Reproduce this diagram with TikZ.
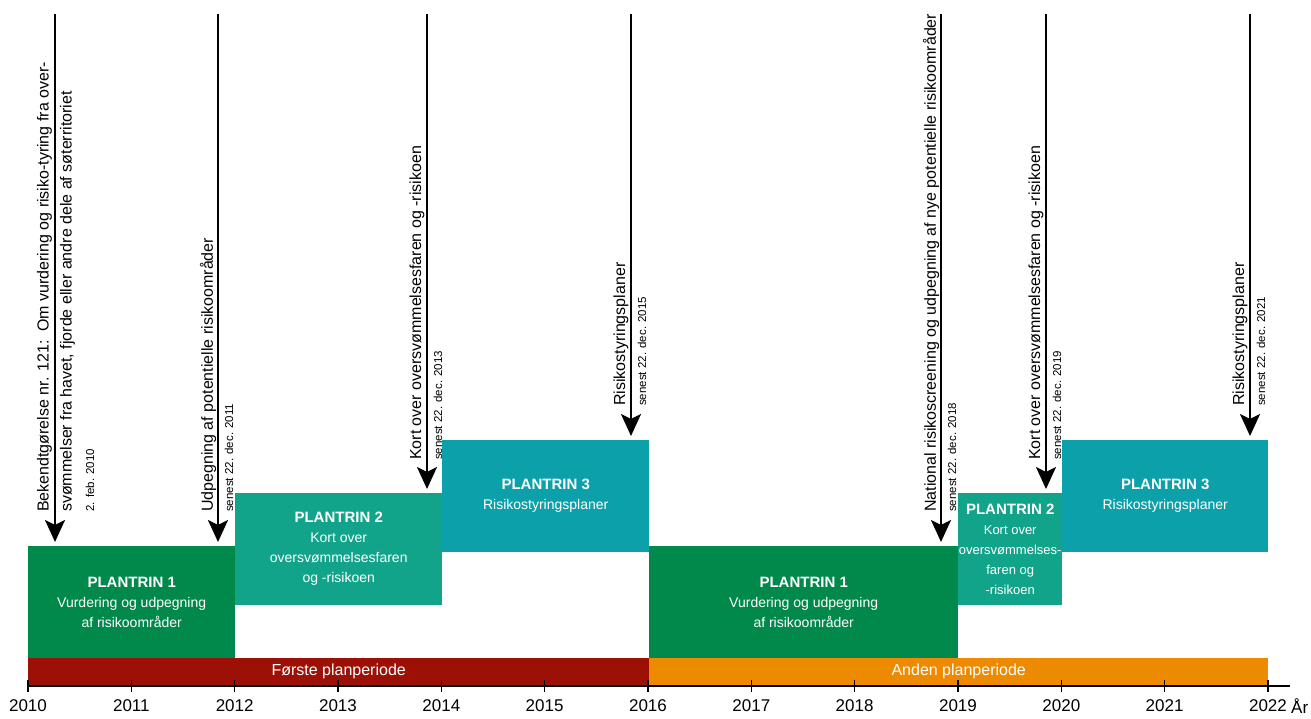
\documentclass[tikz,border=0pt]{standalone}
\usepackage{fontspec}
\setmainfont{Liberation Sans}
\usepackage{xcolor}
\usetikzlibrary{arrows.meta, positioning}

\definecolor{trinA}{HTML}{00894A}
\definecolor{trinB}{HTML}{12A48B}
\definecolor{trinC}{HTML}{0CA0AA}
\definecolor{periodA}{HTML}{9C1006}
\definecolor{periodB}{HTML}{EE8A00}

\begin{document}
\begin{tikzpicture}[
x=1pt, y=-1pt,
trin/.style={fill=#1, text=white, minimum height=112pt, inner sep=0pt, anchor=north west, align=center, font=\fontsize{14}{20}\selectfont},
period/.style={fill=#1, text=white, minimum height=27pt, inner sep=0pt, anchor=north west, font=\fontsize{16}{18}\selectfont},
arr/.style={-{Stealth[length=22pt, width=20pt, inset=5pt]}, line width=2.5pt, shorten >=4pt},
lbl/.style={rotate=90, anchor=west, inner sep=0pt, align=left, font=\fontsize{16}{23}\selectfont},
date/.style={rotate=90, anchor=west, inner sep=0pt, font=\fontsize{11.5}{14}\selectfont},
axis/.style={line width=2pt},
year/.style={font=\fontsize{17}{20}\selectfont, inner sep=0pt}
]
\useasboundingbox (0,0) rectangle (1311,718);

% plantrin boxes, first period
\node[trin=trinA, minimum width=207pt] (p11) at (28,546) {{\bfseries\fontsize{15}{20}\selectfont PLANTRIN 1}\\Vurdering og udpegning\\af risikoområder};
\node[trin=trinB, minimum width=207pt] (p12) at (235,493) {{\bfseries\fontsize{15}{20}\selectfont PLANTRIN 2}\\Kort over\\oversvømmelsesfaren\\og -risikoen};
\node[trin=trinC, minimum width=207pt] (p13) at (442,440) {{\bfseries\fontsize{15}{20}\selectfont PLANTRIN 3}\\Risikostyringsplaner};

% plantrin boxes, second period
\node[trin=trinA, minimum width=309pt] (p21) at (649,546) {{\bfseries\fontsize{15}{20}\selectfont PLANTRIN 1}\\Vurdering og udpegning\\af risikoområder};
\node[trin=trinB, minimum width=104pt, font=\fontsize{13}{20}\selectfont] (p22) at (958,493) {{\bfseries\fontsize{15}{20}\selectfont PLANTRIN 2}\\Kort over\\oversvømmelses-\\faren og\\-risikoen};
\node[trin=trinC, minimum width=206pt] (p23) at (1062,440) {{\bfseries\fontsize{15}{20}\selectfont PLANTRIN 3}\\Risikostyringsplaner};

% periods
\node[period=periodA, minimum width=621pt] (per1) at (28,658) {Første planperiode};
\node[period=periodB, minimum width=619pt] (per2) at (649,658) {Anden planperiode};

% time axis
\draw[axis] (28,686) -- (1290,686);
\foreach \i in {0,...,12} {
  \pgfmathtruncatemacro{\yr}{2010+\i}
  \draw[line width=1.6pt] (28+\i*103.33,680) -- (28+\i*103.33,692);
  \node[year] (y\yr) at (28+\i*103.33,706) {\yr};
}
\node[year, anchor=west] (aar) at (1291,706) {År};

% deadlines
\coordinate (a1) at (55,14);
\coordinate (a2) at (218,14);
\coordinate (a3) at (427,14);
\coordinate (a4) at (631,14);
\coordinate (a5) at (941,14);
\coordinate (a6) at (1046,14);
\coordinate (a7) at (1250,14);

\draw[arr] (a1) -- (a1 |- p11.north);
\draw[arr] (a2) -- (a2 |- p11.north);
\draw[arr] (a3) -- (a3 |- p12.north);
\draw[arr] (a4) -- (a4 |- p13.north);
\draw[arr] (a5) -- (a5 |- p21.north);
\draw[arr] (a6) -- (a6 |- p22.north);
\draw[arr] (a7) -- (a7 |- p23.north);

\node[lbl] (t1) at (56,512) {Bekendtgørelse nr. 121:\ \ Om vurdering og risiko-tyring fra over-\\svømmelser fra havet, fjorde eller andre dele af søterritoriet};
\node[date] (d1) at (90,512) {2. feb. 2010};
\node[lbl] (t2) at (208,512) {Udpegning af potentielle risikoområder};
\node[date] (d2) at (229,512) {senest 22. dec. 2011};
\node[lbl] (t3) at (417,460) {Kort over oversvømmelsesfaren og -risikoen};
\node[date] (d3) at (438,460) {senest 22. dec. 2013};
\node[lbl] (t4) at (621,406) {Risikostyringsplaner};
\node[date] (d4) at (642,406) {senest 22. dec. 2015};
\node[lbl] (t5) at (931,512) {National risikoscreening og udpegning af nye potentielle risikoområder};
\node[date] (d5) at (952,512) {senest 22. dec. 2018};
\node[lbl] (t6) at (1036,460) {Kort over oversvømmelsesfaren og -risikoen};
\node[date] (d6) at (1057,460) {senest 22. dec. 2019};
\node[lbl] (t7) at (1240,406) {Risikostyringsplaner};
\node[date] (d7) at (1261,406) {senest 22. dec. 2021};
\end{tikzpicture}
\end{document}
